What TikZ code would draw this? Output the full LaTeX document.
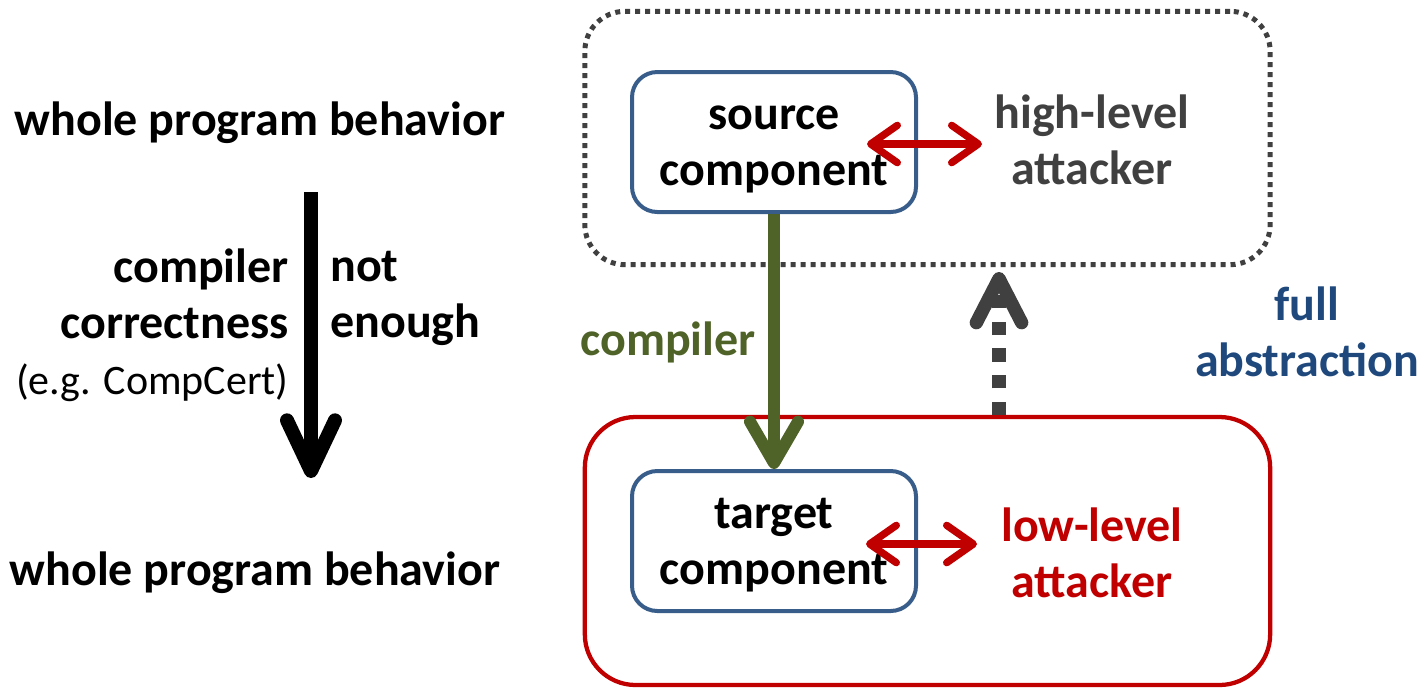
\documentclass[tikz,border=0pt]{standalone}
\usepackage{fontspec}
\setmainfont{Carlito}
\usetikzlibrary{arrows.meta, calc}
\definecolor{compblue}{RGB}{56,93,138}
\definecolor{absblue}{RGB}{31,73,125}
\definecolor{compgreen}{RGB}{79,98,40}
\definecolor{attred}{RGB}{192,0,0}
\definecolor{hlgray}{RGB}{64,64,64}
\newcommand{\slidefont}{\fontsize{36}{42}\selectfont}
\newcommand{\notefont}{\fontsize{31.5}{42}\selectfont}
\newcommand{\topstrut}{\rule{0pt}{29pt}}
\tikzset{
  comp/.style={rectangle, draw=compblue, line width=3pt, rounded corners=19pt, fill=white,
    minimum width=213pt, minimum height=105pt, font=\slidefont\bfseries, align=center},
  hibox/.style={rectangle, draw=hlgray, line width=3.75pt, dash pattern=on 3.75pt off 3.75pt,
    rounded corners=30pt, minimum width=514pt, minimum height=190pt},
  lobox/.style={rectangle, draw=attred, line width=3.2pt, rounded corners=38pt,
    minimum width=514pt, minimum height=201pt},
  lbl/.style={font=\slidefont\bfseries, align=center, inner sep=0pt},
  compile/.style={compgreen, line width=9pt, -{Straight Barb[round, length=31pt, width=36pt]}},
  implies/.style={black, line width=10.5pt, -{Straight Barb[round, length=38pt, width=36pt]}},
  reflect/.style={hlgray, line width=10pt, dash pattern=on 10pt off 10pt,
    -{Straight Barb[round, length=33pt, width=34pt]}},
  attack/.style={attred, line width=5.5pt,
    {Straight Barb[round, length=20pt, width=28pt]}-{Straight Barb[round, length=20pt, width=28pt]}}
}
\begin{document}
\begin{tikzpicture}[x=0.75pt, y=-0.75pt]
  \useasboundingbox (0,0) rectangle (1422,687);
  % the two worlds
  \node[hibox] (hiworld) at (927.5,138) {};
  \node[lobox] (loworld) at (927.5,551) {};
  \node[comp] (src) at (774,142) {\topstrut source\\component};
  \node[comp] (tgt) at (774,541) {\topstrut target\\component};
  \node[lbl, text=hlgray] (hiatk) at (1092,140) {high-level\\attacker};
  \node[lbl, text=attred] (loatk) at (1092,553) {low-level\\attacker};
  \node[lbl, text=compgreen] (complbl) at (668,342) {compiler};
  \node[lbl, text=absblue] (fulllbl) at (1307,332) {full\\abstraction};
  % left column
  \node[lbl] (wpbtop) at (260,123) {whole program behavior};
  \node[lbl] (wpbbot) at (255,573) {whole program behavior};
  \node[lbl, align=right, anchor=east] (cclbl) at (289,325) {compiler\\correctness\\{\notefont\mdseries (e.g. CompCert)}};
  \node[lbl, align=left, anchor=west] (nelbl) at (330,298) {not\\enough};
  \coordinate (ccTop) at (311,192);
  \coordinate (ccBot) at (311,478);
  \coordinate (faFrom) at (999,415);
  \coordinate (faTo) at (999,272);
  \coordinate (hiFrom) at (867,144);
  \coordinate (hiTo) at (982,144);
  \coordinate (loFrom) at (866,544);
  \coordinate (loTo) at (977,544);
  \draw[implies] (ccTop) -- (ccBot);
  \draw[compile] (src.south) -- (tgt.north);
  \draw[reflect] (faFrom) -- (faTo);
  \draw[attack] (hiFrom) -- (hiTo);
  \draw[attack] (loFrom) -- (loTo);
\end{tikzpicture}
\end{document}
